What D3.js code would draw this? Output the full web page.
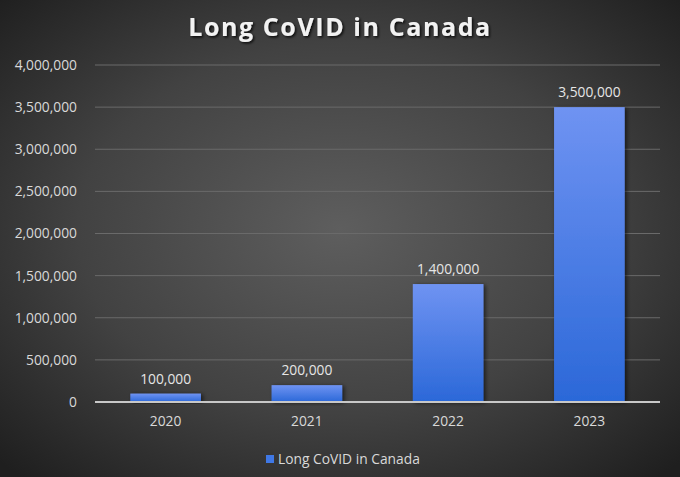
<!DOCTYPE html>
<html><head><meta charset="utf-8">
<script src="https://cdn.jsdelivr.net/npm/d3@7"></script>
<style>html,body{margin:0;padding:0;background:#333;}svg{display:block;}</style>
</head><body>
<svg id="c" width="680" height="477"></svg>
<script>
const categories = ["2020", "2021", "2022", "2023"];
const values = [100000, 200000, 1400000, 3500000];
const yTicks = [0, 500000, 1000000, 1500000, 2000000, 2500000, 3000000, 3500000, 4000000];
const seriesName = "Long CoVID in Canada";
const title = "Long CoVID in Canada";

const W = 680, H = 477;
const m = {left: 95, right: 20, top: 65, bottom: 75};
const svg = d3.select("#c");
const defs = svg.append("defs");
const bg = defs.append("radialGradient").attr("id","bg").attr("cx","50%").attr("cy","48%").attr("r","70%");
bg.append("stop").attr("offset","0%").attr("stop-color","#5e5e5e");
bg.append("stop").attr("offset","55%").attr("stop-color","#424242");
bg.append("stop").attr("offset","100%").attr("stop-color","#1f1f1f");
const bar = defs.append("linearGradient").attr("id","bar").attr("x1",0).attr("y1",0).attr("x2",0).attr("y2",1);
bar.append("stop").attr("offset","0%").attr("stop-color","#6f93f2");
bar.append("stop").attr("offset","100%").attr("stop-color","#2b68d8");
const sh = defs.append("filter").attr("id","sh").attr("x","-20%").attr("y","-20%").attr("width","140%").attr("height","140%");
sh.append("feDropShadow").attr("dx",2).attr("dy",1).attr("stdDeviation",2).attr("flood-color","#000").attr("flood-opacity",0.6);
const tsh = defs.append("filter").attr("id","tsh");
tsh.append("feDropShadow").attr("dx",1.5).attr("dy",1.5).attr("stdDeviation",1.2).attr("flood-color","#000").attr("flood-opacity",0.8);

svg.append("rect").attr("width",W).attr("height",H).attr("fill","url(#bg)");

const x = d3.scaleBand().domain(categories).range([m.left, W - m.right]).paddingInner(0.5).paddingOuter(0.25);
const y = d3.scaleLinear().domain([0, 4000000]).range([H - m.bottom, m.top]);
const fmt = d3.format(",");
const font = "'Open Sans', 'DejaVu Sans', sans-serif";
const fs = 13.8;

svg.append("text").attr("x", W/2).attr("y", 36).attr("text-anchor","middle")
  .attr("font-family", font).attr("font-weight","bold").attr("font-size", 25).attr("letter-spacing", 1.6)
  .attr("fill","#f2f2f2").attr("filter","url(#tsh)").text(title);

// grid
svg.append("g").selectAll("line").data(yTicks.filter(d=>d>0)).join("line")
  .attr("x1", m.left).attr("x2", W - m.right).attr("y1", d=>y(d)).attr("y2", d=>y(d))
  .attr("stroke","#6a6a6a").attr("stroke-width",1);

// y axis labels
const ya = svg.append("g").attr("transform",`translate(${m.left},0)`)
  .call(d3.axisLeft(y).tickValues(yTicks).tickFormat(fmt).tickSize(0).tickPadding(18));
ya.select(".domain").remove();
ya.selectAll("text").attr("font-family", font).attr("font-size", fs).attr("fill","#d9d9d9");

// bars
svg.append("g").selectAll("rect").data(values).join("rect")
  .attr("x", (d,i)=>x(categories[i])).attr("width", x.bandwidth())
  .attr("y", d=>y(d)).attr("height", d=>y(0)-y(d))
  .attr("fill","url(#bar)").attr("filter","url(#sh)");

// value labels
svg.append("g").selectAll("text").data(values).join("text")
  .attr("x", (d,i)=>x(categories[i]) + x.bandwidth()/2).attr("y", d=>y(d) - 10)
  .attr("text-anchor","middle").attr("font-family", font).attr("font-size", fs).attr("fill","#e6e6e6")
  .text(d=>fmt(d));

// x axis
const xa = svg.append("g").attr("transform",`translate(0,${y(0)})`)
  .call(d3.axisBottom(x).tickSize(0).tickPadding(14));
xa.select(".domain").attr("stroke","#c8c8c8").attr("stroke-width",2).attr("d", `M${m.left},0H${W-m.right}`);
xa.selectAll("text").attr("font-family", font).attr("font-size", fs).attr("fill","#d9d9d9");

// legend
const lg = svg.append("g").attr("transform","translate(266,459)");
lg.append("rect").attr("x",0).attr("y",-4).attr("width",8).attr("height",8).attr("fill","#3f78e6");
lg.append("text").attr("x",12).attr("y",5).attr("font-family", font).attr("font-size", fs).attr("fill","#d9d9d9").text(seriesName);
</script>
</body></html>
